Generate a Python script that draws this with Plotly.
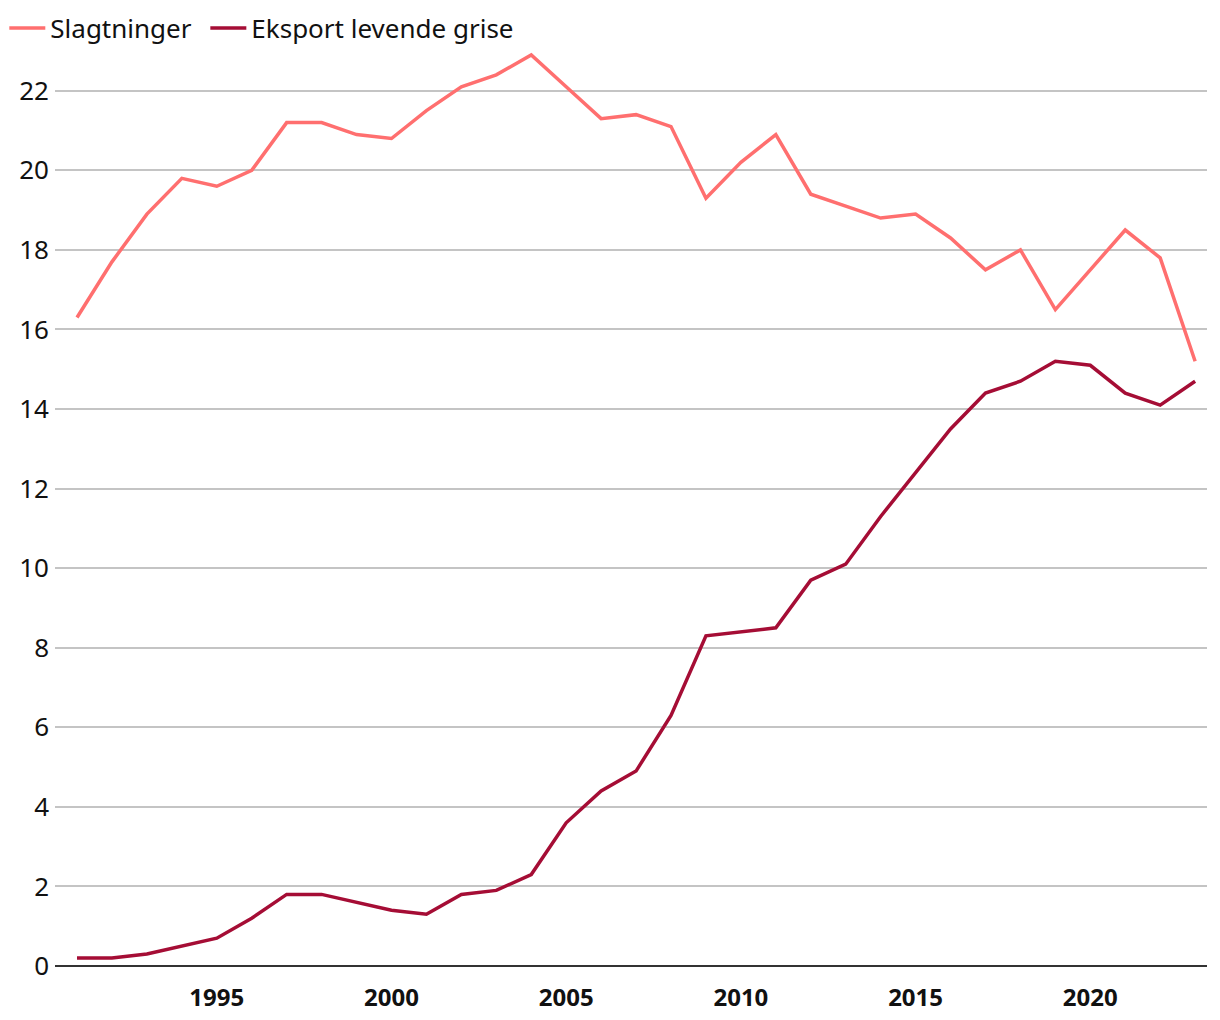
import plotly.graph_objects as go

years = list(range(1991, 2024))
slagtninger = [16.3, 17.7, 18.9, 19.8, 19.6, 20.0, 21.2, 21.2, 20.9, 20.8,
               21.5, 22.1, 22.4, 22.9, 22.1, 21.3, 21.4, 21.1, 19.3, 20.2,
               20.9, 19.4, 19.1, 18.8, 18.9, 18.3, 17.5, 18.0, 16.5, 17.5,
               18.5, 17.8, 15.2]
eksport = [0.2, 0.2, 0.3, 0.5, 0.7, 1.2, 1.8, 1.8, 1.6, 1.4,
           1.3, 1.8, 1.9, 2.3, 3.6, 4.4, 4.9, 6.3, 8.3, 8.4,
           8.5, 9.7, 10.1, 11.3, 12.4, 13.5, 14.4, 14.7, 15.2, 15.1,
           14.4, 14.1, 14.7]
series_names = ["Slagtninger", "Eksport levende grise"]
colors = ["#FF6F6F", "#A50D35"]
x_ticks = [1995, 2000, 2005, 2010, 2015, 2020]
y_ticks = [0, 2, 4, 6, 8, 10, 12, 14, 16, 18, 20, 22]

fig = go.Figure()
for name, vals, col, lg in zip(series_names, [slagtninger, eksport], colors,
                               ["legend", "legend2"]):
    fig.add_trace(go.Scatter(x=years, y=vals, mode="lines", name=name, legend=lg,
                             line=dict(color=col, width=3.5)))

font_family = "Noto Sans, Open Sans, sans-serif"
legend_style = dict(orientation="h", y=1.025, xanchor="left", yanchor="middle",
                    font=dict(size=26, color="#111"), itemwidth=36,
                    bgcolor="rgba(0,0,0,0)")
fig.update_layout(
    width=1212, height=1012,
    margin=dict(l=47, r=13, t=43, b=54, autoexpand=False),
    plot_bgcolor="white", paper_bgcolor="white",
    font=dict(family=font_family, size=26, color="#111"),
    showlegend=True,
    legend=dict(x=-0.044, **legend_style),
    legend2=dict(x=0.1305, **legend_style),
    xaxis=dict(range=[1990.37, 2023.34], tickvals=x_ticks,
               ticktext=[f"<b>{t}</b>" for t in x_ticks],
               showgrid=False, zeroline=False, showline=False, automargin=False,
               ticks="", tickfont=dict(size=24, color="#111"), ticklabelstandoff=15),
    yaxis=dict(range=[0, 23], tickvals=y_ticks, showgrid=True, gridcolor="#C4C4C4",
               gridwidth=1.5, zeroline=True, zerolinecolor="#333", zerolinewidth=2,
               automargin=False,
               ticks="", tickfont=dict(size=26, color="#111"), ticklabelstandoff=5),
)
fig.write_html("out.html")
